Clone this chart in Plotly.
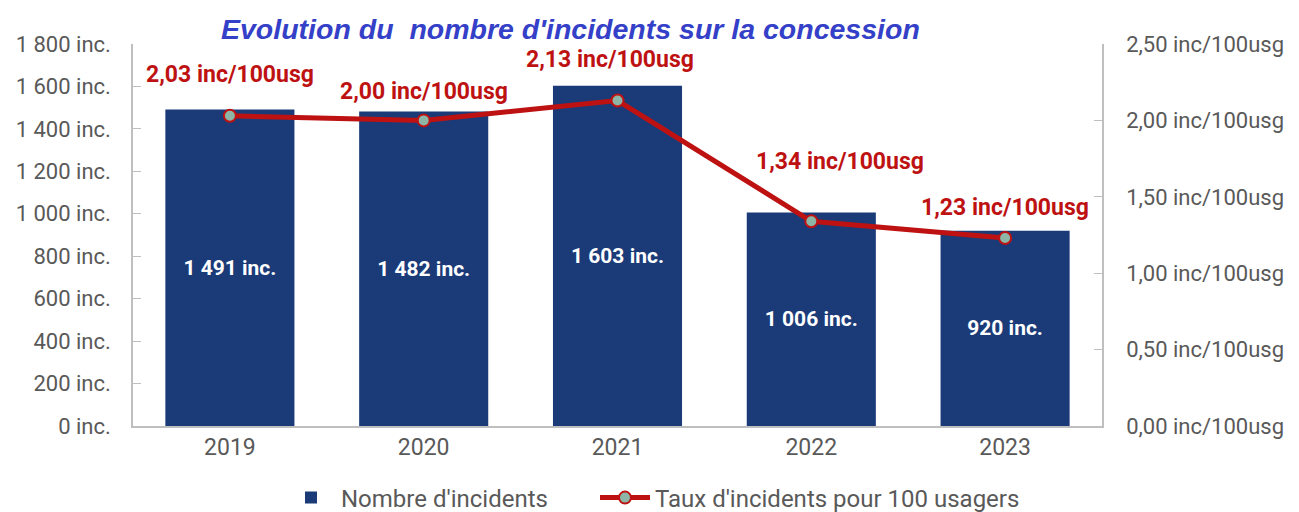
"""
Évolution du nombre d'incidents sur la concession (barres + taux).
"""

import plotly.graph_objects as go

annees = ["2019", "2020", "2021", "2022", "2023"]
nb_incidents = [1491, 1482, 1603, 1006, 920]
taux_incidents = [2.03, 2.00, 2.13, 1.34, 1.23]

BLEU = "#1A3A78"
ROUGE = "#BE1212"
GRIS = "#595959"
POLICE = "Roboto"

# décalages des étiquettes du taux (en pixels)
decal_y = [41, 29, 41, 60, 31]
decal_x = [0, 0, -8, 29, 0]

fig = go.Figure()

fig.add_trace(
    go.Bar(
        x=annees,
        y=nb_incidents,
        name="Nombre d'incidents",
        marker=dict(color=BLEU, line=dict(width=0)),
        texttemplate="%{y:,d} inc.",
        textposition="inside",
        insidetextanchor="middle",
        textangle=0,
        textfont=dict(family=POLICE, size=21, color="white", weight="bold"),
        yaxis="y",
        legend="legend",
    )
)

fig.add_trace(
    go.Scatter(
        x=annees,
        y=taux_incidents,
        name="Taux d'incidents pour 100 usagers",
        mode="lines+markers",
        line=dict(color=ROUGE, width=5),
        marker=dict(size=12, color="#8DB6A6", line=dict(color=ROUGE, width=2)),
        yaxis="y2",
        legend="legend2",
    )
)

# sur un axe catégoriel, x numérique = rang de la catégorie
for i, (taux, dy, dx) in enumerate(zip(taux_incidents, decal_y, decal_x)):
    fig.add_annotation(
        x=i,
        y=taux,
        xref="x",
        yref="y2",
        text=f"{taux:.2f}".replace(".", ",") + " inc/100usg",
        showarrow=False,
        yshift=dy,
        xshift=dx,
        font=dict(family=POLICE, size=23, color=ROUGE, weight="bold"),
    )

fig.add_annotation(
    text="Evolution du  nombre d'incidents sur la concession",
    xref="paper",
    yref="paper",
    x=(570 - 133) / (1102 - 133),
    y=1.0 + 15 / 382.5,
    xanchor="center",
    yanchor="middle",
    showarrow=False,
    font=dict(family="Liberation Sans", size=28.5, color="#3540C8", weight="bold", style="italic"),
)

axe = dict(
    showgrid=False,
    zeroline=False,
    showline=True,
    linecolor="#BFBFBF",
    linewidth=1.5,
    ticks="inside",
    ticklen=8,
    tickcolor="#BFBFBF",
    tickfont=dict(family=POLICE, size=22, color=GRIS),
)

legende = dict(
    orientation="h",
    xref="container",
    yref="container",
    y=22 / 512,
    xanchor="left",
    yanchor="middle",
    font=dict(family=POLICE, size=24, color=GRIS),
    itemwidth=50,
)

fig.update_layout(
    width=1299,
    height=512,
    margin=dict(l=125, r=205, t=36, b=94, autoexpand=False),
    plot_bgcolor="white",
    paper_bgcolor="white",
    separators=", ",
    bargap=0.334,
    showlegend=True,
    legend=dict(legende, x=273 / 1299),
    legend2=dict(legende, x=587 / 1299),
    xaxis=dict(
        type="category",
        range=[-0.5, 4.5],
        showgrid=False,
        showline=True,
        linecolor="#BFBFBF",
        linewidth=1.5,
        ticks="",
        tickfont=dict(family=POLICE, size=23, color=GRIS),
    ),
    yaxis=dict(
        axe,
        range=[0, 1800],
        dtick=200,
        tickformat=",d",
        ticksuffix=" inc.",
        ticklabelstandoff=16,
    ),
    yaxis2=dict(
        axe,
        overlaying="y",
        side="right",
        range=[0, 2.5],
        dtick=0.5,
        tickformat=".2f",
        ticksuffix=" inc/100usg",
        ticklabelstandoff=18,
    ),
)

fig.write_html("out.html")
